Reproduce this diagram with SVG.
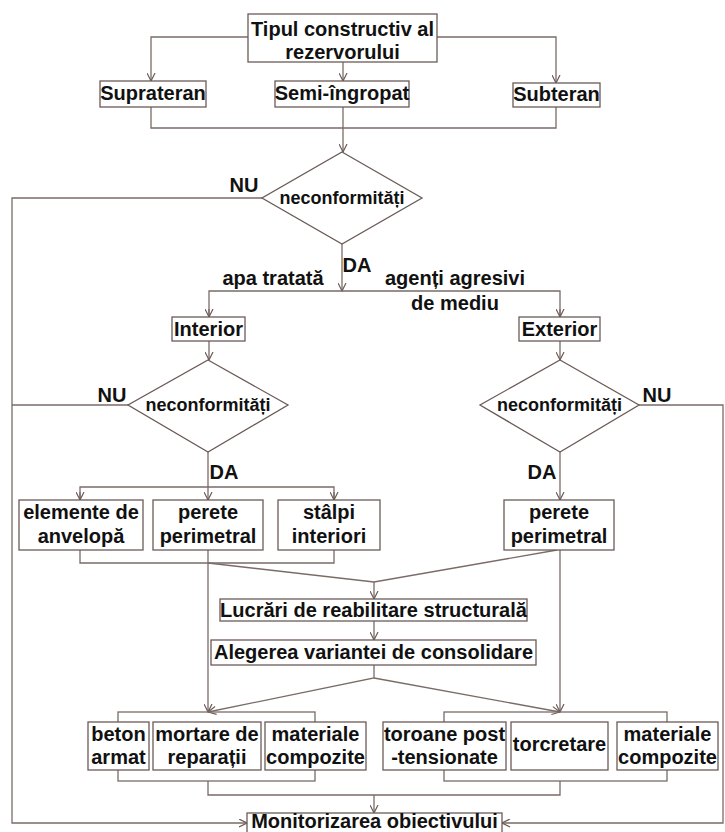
<svg xmlns="http://www.w3.org/2000/svg" width="725" height="832" viewBox="0 0 725 832">
<style>
.b{fill:#fff;stroke:#6b5b57;stroke-width:1.3}
.c{fill:none;stroke:#7a6b67;stroke-width:1.3}
.t{font-family:"Liberation Sans",Arial,sans-serif;font-weight:bold;font-size:20px;fill:#111;text-anchor:middle}
.d{font-size:18px}
</style>
<defs>
<marker id="a" viewBox="0 0 9 9" refX="8.5" refY="4.5" markerWidth="9" markerHeight="9" markerUnits="userSpaceOnUse" orient="auto">
<path d="M0.5,0.5 L8.5,4.5 L0.5,8.5" fill="none" stroke="#6b5b57" stroke-width="1.2"/>
</marker>
</defs>
<rect width="725" height="832" fill="#fff"/>
<g id="connectors" class="c">
<polyline points="248,37 151,37 151,81" marker-end="url(#a)"/>
<line x1="343" y1="62" x2="343" y2="81" marker-end="url(#a)"/>
<polyline points="437,37 556,37 556,83" marker-end="url(#a)"/>
<polyline points="151,107 151,128 556,128 556,107"/>
<line x1="343" y1="107" x2="343" y2="152" marker-end="url(#a)"/>
<polyline points="262,198 12,198 12,823 247,823" marker-end="url(#a)"/>
<line x1="342" y1="244" x2="342" y2="291" marker-end="url(#a)"/>
<polyline points="209,317 209,291 560,291 560,317"/>
<line x1="209" y1="309" x2="209" y2="317" marker-end="url(#a)"/>
<line x1="560" y1="309" x2="560" y2="317" marker-end="url(#a)"/>
<line x1="209" y1="341" x2="209" y2="360" marker-end="url(#a)"/>
<line x1="560" y1="341" x2="560" y2="360" marker-end="url(#a)"/>
<line x1="128" y1="405" x2="12" y2="405"/>
<polyline points="639,405 723,405 723,823 502,823" marker-end="url(#a)"/>
<line x1="208" y1="452" x2="208" y2="500" marker-end="url(#a)"/>
<polyline points="80,500 80,487 334,487 334,500"/>
<line x1="80" y1="492" x2="80" y2="500" marker-end="url(#a)"/>
<line x1="334" y1="492" x2="334" y2="500" marker-end="url(#a)"/>
<line x1="560" y1="452" x2="560" y2="500" marker-end="url(#a)"/>
<polyline points="80,550 80,563 334,563 334,550"/>
<line x1="208" y1="550" x2="208" y2="712" marker-end="url(#a)"/>
<polyline points="208,563 374,582 557,550"/>
<line x1="560" y1="550" x2="560" y2="712" marker-end="url(#a)"/>
<line x1="374" y1="582" x2="374" y2="599" marker-end="url(#a)"/>
<line x1="374" y1="621" x2="374" y2="640" marker-end="url(#a)"/>
<polyline points="374,665 374,678 208,712" marker-end="url(#a)"/>
<line x1="374" y1="678" x2="560" y2="712" marker-end="url(#a)"/>
<rect x="118" y="712" width="197" height="69"/>
<rect x="444" y="712" width="223" height="69"/>
<polyline points="208,781 208,795 560,795 560,781"/>
<line x1="374" y1="795" x2="374" y2="813" marker-end="url(#a)"/>
</g>
<g id="n-title"><rect class="b" x="248" y="14" width="189" height="48"/><text class="t" x="342.5" y="36">Tipul constructiv al</text><text class="t" x="342.5" y="59">rezervorului</text></g>
<g id="n-suprateran"><rect class="b" x="100" y="81" width="106" height="26"/><text class="t" x="153" y="100">Suprateran</text></g>
<g id="n-semi"><rect class="b" x="275" y="81" width="134" height="26"/><text class="t" x="342" y="100">Semi-îngropat</text></g>
<g id="n-subteran"><rect class="b" x="513" y="83" width="87" height="24"/><text class="t" x="556.5" y="101">Subteran</text></g>
<g id="n-dec1"><polygon class="b" points="342,152 422,198 342,244 262,198"/><text class="t d" x="342" y="204">neconformități</text></g>
<g id="l-nu1"><text class="t" x="244" y="192">NU</text></g>
<g id="l-da1"><text class="t" x="357" y="272">DA</text></g>
<g id="l-apa"><text class="t" x="273" y="285">apa tratată</text></g>
<g id="l-agenti"><text class="t" x="455" y="285">agenți agresivi</text><text class="t" x="455" y="310">de mediu</text></g>
<g id="n-interior"><rect class="b" x="172" y="317" width="73" height="24"/><text class="t" x="208.5" y="336">Interior</text></g>
<g id="n-exterior"><rect class="b" x="519" y="317" width="81" height="24"/><text class="t" x="559.5" y="336">Exterior</text></g>
<g id="n-dec2"><polygon class="b" points="208,360 288,405 208,452 128,405"/><text class="t d" x="208" y="411">neconformități</text></g>
<g id="n-dec3"><polygon class="b" points="560,360 639,405 560,452 480,405"/><text class="t d" x="559.5" y="411">neconformități</text></g>
<g id="l-nu2"><text class="t" x="112" y="402">NU</text></g>
<g id="l-da2"><text class="t" x="224" y="479">DA</text></g>
<g id="l-nu3"><text class="t" x="657" y="402">NU</text></g>
<g id="l-da3"><text class="t" x="542" y="479">DA</text></g>
<g id="n-anvelopa"><rect class="b" x="19" y="500" width="124" height="50"/><text class="t" x="81" y="519">elemente de</text><text class="t" x="81" y="543">anvelopă</text></g>
<g id="n-perete-int"><rect class="b" x="153" y="500" width="110" height="50"/><text class="t" x="208" y="519">perete</text><text class="t" x="208" y="543">perimetral</text></g>
<g id="n-stalpi"><rect class="b" x="278" y="500" width="102" height="50"/><text class="t" x="329" y="519">stâlpi</text><text class="t" x="329" y="543">interiori</text></g>
<g id="n-perete-ext"><rect class="b" x="504" y="500" width="110" height="50"/><text class="t" x="559" y="519">perete</text><text class="t" x="559" y="543">perimetral</text></g>
<g id="n-lucrari"><rect class="b" x="220" y="599" width="307" height="22"/><text class="t" x="373.5" y="617">Lucrări de reabilitare structurală</text></g>
<g id="n-alegerea"><rect class="b" x="211" y="640" width="325" height="25"/><text class="t" x="373.5" y="659">Alegerea variantei de consolidare</text></g>
<g id="n-beton"><rect class="b" x="88" y="722" width="61" height="48"/><text class="t" x="118.5" y="741">beton</text><text class="t" x="118.5" y="764">armat</text></g>
<g id="n-mortare"><rect class="b" x="153" y="722" width="108" height="48"/><text class="t" x="207" y="741">mortare de</text><text class="t" x="207" y="764">reparații</text></g>
<g id="n-mat1"><rect class="b" x="265" y="722" width="101" height="48"/><text class="t" x="315.5" y="741">materiale</text><text class="t" x="315.5" y="764">compozite</text></g>
<g id="n-toroane"><rect class="b" x="383" y="722" width="123" height="48"/><text class="t" x="444.5" y="741">toroane post</text><text class="t" x="444.5" y="764">-tensionate</text></g>
<g id="n-torcretare"><rect class="b" x="511" y="722" width="97" height="48"/><text class="t" x="559.5" y="751">torcretare</text></g>
<g id="n-mat2"><rect class="b" x="617" y="722" width="101" height="48"/><text class="t" x="667.5" y="741">materiale</text><text class="t" x="667.5" y="764">compozite</text></g>
<g id="n-monitor"><rect class="b" x="247" y="813" width="255" height="30"/><text class="t" x="374.5" y="828">Monitorizarea obiectivului</text></g>
</svg>
